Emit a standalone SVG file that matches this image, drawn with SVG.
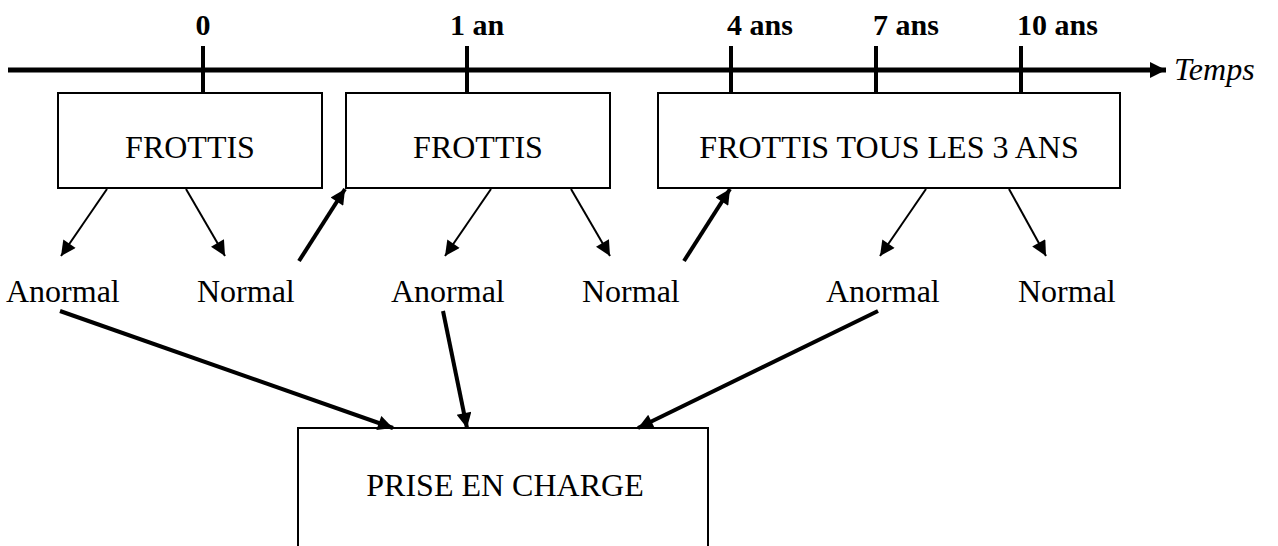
<svg xmlns="http://www.w3.org/2000/svg" width="1278" height="546" viewBox="0 0 1278 546">
  <style>
    .box { fill: #fff; stroke: #000; stroke-width: 2; }
    .lbl { font-family: "Liberation Serif", "Times New Roman", serif; font-size: 32px; fill: #000; }
    .year { font-family: "Liberation Serif", "Times New Roman", serif; font-size: 30px; font-weight: bold; fill: #000; }
    .axis { stroke: #000; stroke-width: 5; fill: none; }
    .tick { stroke: #000; stroke-width: 4; }
    .thin { stroke: #000; stroke-width: 2; fill: none; marker-end: url(#headS); }
    .thick { stroke: #000; stroke-width: 4; fill: none; marker-end: url(#headL); }
  </style>
  <defs>
    <marker id="headS" viewBox="0 0 10 10" refX="10" refY="5" markerUnits="userSpaceOnUse" markerWidth="17" markerHeight="15" orient="auto">
      <path d="M0,0 L10,5 L0,10 z" fill="#000"/>
    </marker>
    <marker id="headL" viewBox="0 0 10 10" refX="10" refY="5" markerUnits="userSpaceOnUse" markerWidth="18" markerHeight="15" orient="auto">
      <path d="M0,0 L10,5 L0,10 z" fill="#000"/>
    </marker>
    <marker id="headAxis" viewBox="0 0 10 10" refX="10" refY="5" markerUnits="userSpaceOnUse" markerWidth="22" markerHeight="16" orient="auto">
      <path d="M0,0 L10,5 L0,10 z" fill="#000"/>
    </marker>
  </defs>

  <!-- time axis -->
  <g id="timeline">
    <line class="axis" x1="8" y1="70" x2="1166" y2="70" marker-end="url(#headAxis)"/>
    <line class="tick" x1="203" y1="46" x2="203" y2="93"/>
    <line class="tick" x1="467" y1="46" x2="467" y2="93"/>
    <line class="tick" x1="731" y1="46" x2="731" y2="93"/>
    <line class="tick" x1="876" y1="46" x2="876" y2="93"/>
    <line class="tick" x1="1021" y1="46" x2="1021" y2="93"/>
    <text class="year" x="203" y="35" text-anchor="middle">0</text>
    <text class="year" x="450" y="35">1 an</text>
    <text class="year" x="727" y="35">4 ans</text>
    <text class="year" x="873" y="35">7 ans</text>
    <text class="year" x="1017" y="35">10 ans</text>
    <text class="lbl" x="1174" y="80" font-style="italic" font-size="30">Temps</text>
  </g>

  <g id="frottis-0">
    <rect class="box" x="58" y="93" width="264" height="95"/>
    <text class="lbl" x="190" y="158" text-anchor="middle">FROTTIS</text>
  </g>
  <g id="frottis-1">
    <rect class="box" x="346" y="93" width="264" height="95"/>
    <text class="lbl" x="478" y="158" text-anchor="middle">FROTTIS</text>
  </g>
  <g id="frottis-3ans">
    <rect class="box" x="658" y="93" width="462" height="95"/>
    <text class="lbl" x="889" y="158" text-anchor="middle">FROTTIS TOUS LES 3 ANS</text>
  </g>

  <g id="anormal-1"><text class="lbl" x="6" y="302">Anormal</text></g>
  <g id="normal-1"><text class="lbl" x="197" y="302">Normal</text></g>
  <g id="anormal-2"><text class="lbl" x="391" y="302">Anormal</text></g>
  <g id="normal-2"><text class="lbl" x="582" y="302">Normal</text></g>
  <g id="anormal-3"><text class="lbl" x="826" y="302">Anormal</text></g>
  <g id="normal-3"><text class="lbl" x="1018" y="302">Normal</text></g>

  <g id="prise-en-charge">
    <rect class="box" x="298" y="428" width="410" height="140"/>
    <text class="lbl" x="505" y="496" text-anchor="middle">PRISE EN CHARGE</text>
  </g>

  <g id="connectors">
    <line class="thin" x1="107" y1="189" x2="61" y2="256"/>
    <line class="thin" x1="186" y1="189" x2="225" y2="256"/>
    <line class="thick" x1="299" y1="261" x2="345" y2="189"/>
    <line class="thin" x1="491" y1="189" x2="445" y2="256"/>
    <line class="thin" x1="571" y1="189" x2="610" y2="256"/>
    <line class="thick" x1="684" y1="261" x2="730" y2="189"/>
    <line class="thin" x1="926" y1="189" x2="880" y2="256"/>
    <line class="thin" x1="1009" y1="189" x2="1046" y2="256"/>
    <line class="thick" x1="60" y1="311" x2="393" y2="428"/>
    <line class="thick" x1="443" y1="311" x2="467" y2="428"/>
    <line class="thick" x1="878" y1="311" x2="638" y2="428"/>
  </g>
</svg>
